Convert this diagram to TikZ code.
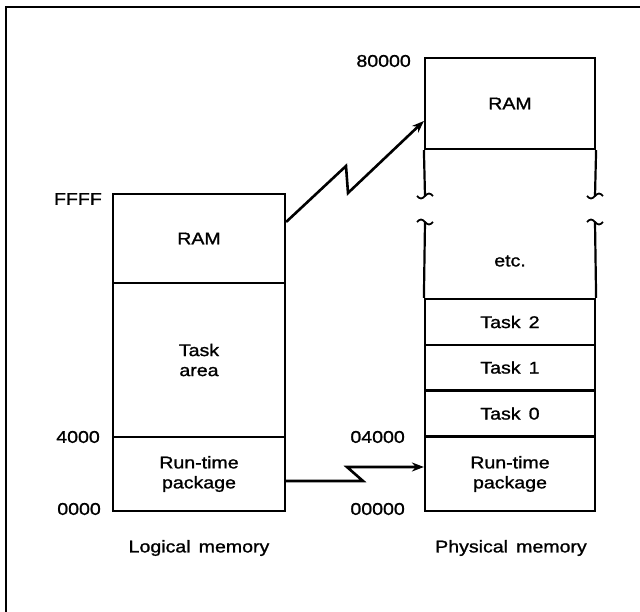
\documentclass[tikz,border=0pt]{standalone}
\usepackage{fontspec}
\setmainfont{Liberation Sans}[FakeStretch=1.15,WordSpace=1.5,FakeBold=1.2]
\usetikzlibrary{arrows.meta}
\begin{document}
\begin{tikzpicture}[x=1pt,y=-1pt,
  cell/.style={draw,line width=2.2pt,inner sep=0pt,align=center,font=\fontsize{17}{20}\selectfont},
  addr/.style={anchor=east,inner sep=0pt,font=\fontsize{17}{20}\selectfont},
  captext/.style={inner sep=0pt,font=\fontsize{17}{20}\selectfont},
  link/.style={line width=2.6pt,-{Stealth[length=12pt,width=9pt]}},
  wall/.style={line width=2.2pt}]
\useasboundingbox (0,0) rectangle (640,612);
% frame
\draw[line width=1.5pt] (640,7) -- (6,7) -- (6,612);
% logical memory
\node[cell,minimum width=172pt,minimum height=89pt] (lram) at (199,238.5) {RAM};
\node[cell,minimum width=172pt,minimum height=154pt] (ltask) at (199,360) {Task\\area};
\node[cell,minimum width=172pt,minimum height=74pt] (lrun) at (199,474) {Run-time\\package};
\node[addr] (aF) at (102,199) {FFFF};
\node[addr] (a4) at (100,437) {4000};
\node[addr] (a0) at (101,509) {0000};
\node[captext] (lcap) at (199,548) {Logical memory};
% physical memory
\node[cell,minimum width=170pt,minimum height=91pt] (pram) at (510,103.5) {RAM};
\node[cell,draw=none,minimum width=170pt,minimum height=78pt] (petc) at (510,261) {etc.};
\node[cell,minimum width=170pt,minimum height=46pt] (pt2) at (510,322) {Task 2};
\node[cell,minimum width=170pt,minimum height=45pt] (pt1) at (510,367.5) {Task 1};
\node[cell,minimum width=170pt,minimum height=46pt] (pt0) at (510,413.5) {Task 0};
\node[cell,minimum width=170pt,minimum height=74pt] (prun) at (510,474) {Run-time\\package};
\node[addr] (a80) at (411,61) {80000};
\node[addr] (a04) at (405,437) {04000};
\node[addr] (a00) at (405,509) {00000};
\node[captext] (pcap) at (511,548) {Physical memory};
% broken side walls
\coordinate (bl1) at (425,196);
\coordinate (br1) at (595,196);
\coordinate (bl2) at (425,222);
\coordinate (br2) at (595,222);
\draw[wall] (pram.south west) -- (bl1);
\draw[wall] (pram.south east) -- (br1);
\draw[wall] (pt2.north west) -- (bl2);
\draw[wall] (pt2.north east) -- (br2);
\foreach \c in {bl1,br1}
  \draw[line width=1.8pt] ([xshift=-8pt]\c) sin ([xshift=-4pt,yshift=-2.5pt]\c) cos (\c) sin ([xshift=4pt,yshift=2.5pt]\c) cos ([xshift=8pt]\c);
\foreach \c in {bl2,br2}
  \draw[line width=1.8pt] ([xshift=-8pt]\c) sin ([xshift=-4pt,yshift=2.5pt]\c) cos (\c) sin ([xshift=4pt,yshift=-2.5pt]\c) cos ([xshift=8pt]\c);
% mapping arrows
\coordinate (z1) at (346,166);
\coordinate (z2) at (348,193);
\draw[link] (lram.east |- 0,222) -- (z1) -- (z2) -- (pram.west |- 0,121);
\coordinate (z3) at (363,481);
\coordinate (z4) at (347,467);
\draw[link] (lrun.east |- 0,481) -- (z3) -- (z4) -- (prun.west |- 0,467);
\end{tikzpicture}
\end{document}
